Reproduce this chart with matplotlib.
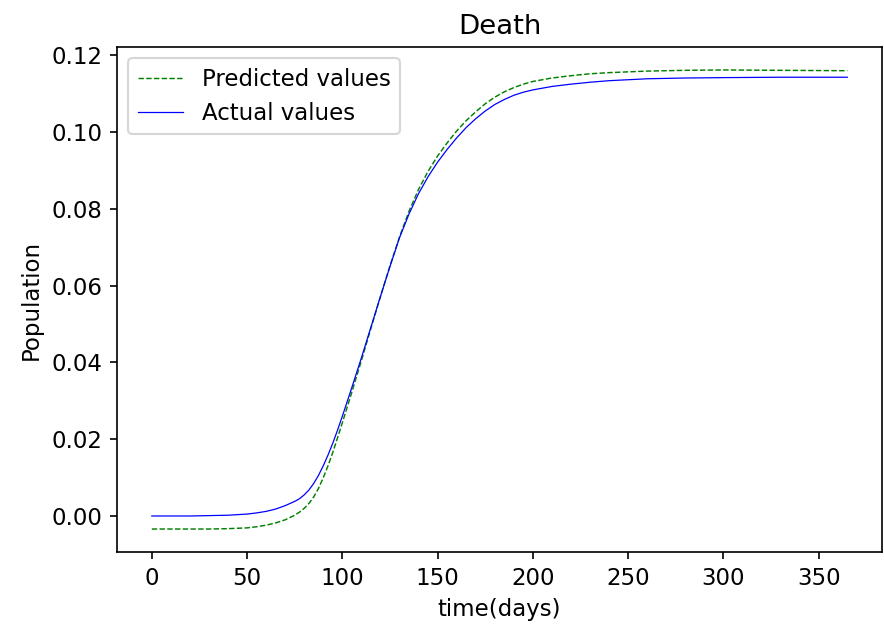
import numpy as np
import matplotlib
matplotlib.use('Agg')
import matplotlib.pyplot as plt

plt.rcParams['font.size'] = 11

# 天数
days = [0, 20, 30, 40, 50, 55, 60, 65, 70, 75, 77.5, 80, 82.5, 85, 87.5, 90,
        92.5, 95, 97.5, 100, 105, 110, 115, 120, 125, 130, 135, 140, 145, 150,
        155, 160, 165, 170, 175, 180, 185, 190, 195, 200, 210, 220, 230, 240,
        260, 280, 300, 330, 365]

# 实际值
actual = [0.0000, 0.0000, 0.0001, 0.0002, 0.0005, 0.0008, 0.0012, 0.0018,
          0.0027, 0.0038, 0.0045, 0.0055, 0.0068, 0.0085, 0.0106, 0.0131,
          0.0159, 0.0190, 0.0224, 0.0260, 0.0335, 0.0412, 0.0492, 0.0572,
          0.0650, 0.0725, 0.0787, 0.0840, 0.0884, 0.0922, 0.0955, 0.0985,
          0.1012, 0.1035, 0.1055, 0.1072, 0.1085, 0.1096, 0.1104, 0.1110,
          0.1119, 0.1125, 0.1130, 0.1134, 0.1139, 0.1141, 0.1142, 0.1143,
          0.1143]

# 预测值
predicted = [-0.0034, -0.0034, -0.0034, -0.0033, -0.0031, -0.0028, -0.0024,
             -0.0018, -0.0010, 0.0002, 0.0010, 0.0020, 0.0033, 0.0050, 0.0072,
             0.0100, 0.0131, 0.0166, 0.0204, 0.0243, 0.0323, 0.0405, 0.0489,
             0.0572, 0.0652, 0.0727, 0.0794, 0.0851, 0.0898, 0.0938, 0.0972,
             0.1003, 0.1030, 0.1053, 0.1074, 0.1091, 0.1105, 0.1116, 0.1125,
             0.1132, 0.1141, 0.1147, 0.1152, 0.1155, 0.1159, 0.1161, 0.1162,
             0.1161, 0.1160]

fig = plt.figure(figsize=(884 / 150, 624 / 150), dpi=150)
ax = fig.add_axes([0.1324, 0.1154, 0.8654, 0.8093])
ax.plot(days, predicted, color='g', linestyle='--', linewidth=0.7, label='Predicted values')
ax.plot(days, actual, color='b', linestyle='-', linewidth=0.6, label='Actual values')
ax.set_title('Death', fontsize=13.2)
ax.set_xlabel('time(days)')
ax.set_ylabel('Population')
ax.legend(loc='upper left')
fig.savefig('out.png', dpi=150)
